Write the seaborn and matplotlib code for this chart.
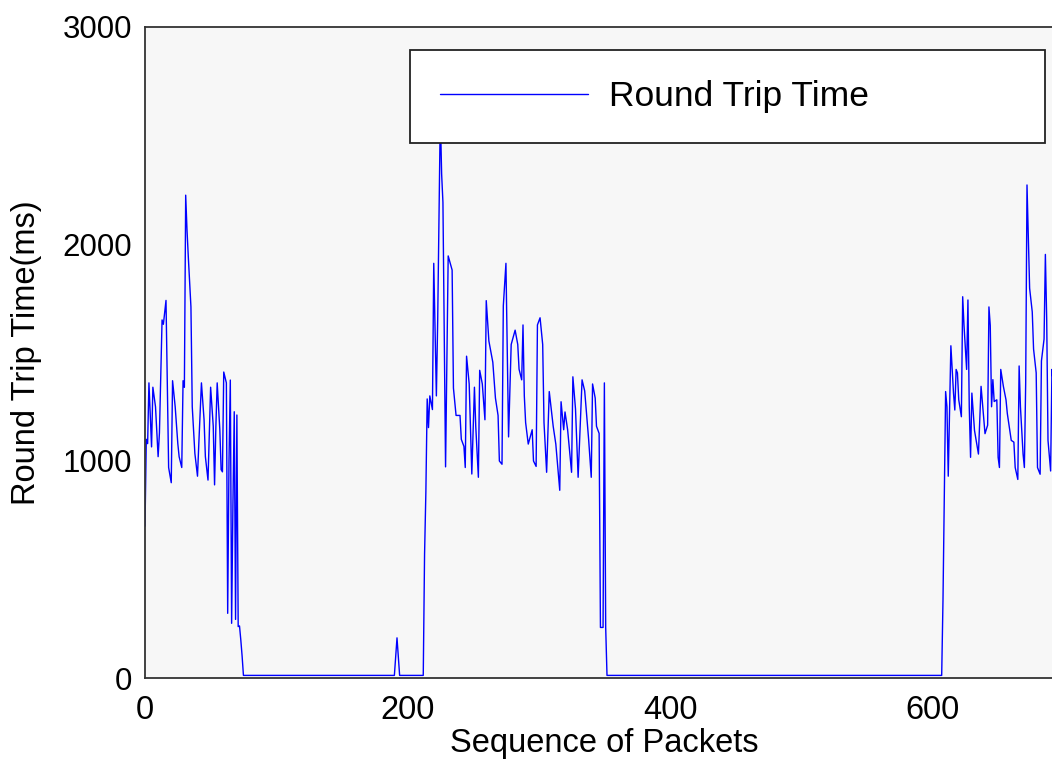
import numpy as np
import pandas as pd
import matplotlib
matplotlib.use("Agg")
import matplotlib.pyplot as plt
from matplotlib import font_manager
import seaborn as sns

# --- RTT samples (packet sequence number, round trip time in ms) ---
burst1_seq = [0, 1, 2, 3, 5, 6, 8, 10, 11, 13, 14, 16, 17, 18, 20, 21, 23, 25, 26,
              28, 29, 30, 31, 32, 33, 35, 36, 38, 40, 41, 43, 45, 46, 48, 50, 52,
              53, 54, 55, 57, 58, 59, 60, 62, 63, 64, 65, 66, 67, 68, 69, 70, 71,
              72, 73, 74, 75]
burst1_rtt = [700, 1100, 1080, 1360, 1065, 1340, 1250, 1020, 1130, 1650, 1630, 1740,
              1370, 970, 900, 1370, 1250, 1080, 1020, 970, 1370, 1340, 2225, 2065,
              1940, 1710, 1250, 1035, 930, 1080, 1360, 1190, 1020, 912, 1340, 1160,
              890, 1160, 1360, 1145, 960, 950, 1410, 1360, 298, 1000, 1373, 252,
              800, 1227, 270, 1212, 237, 240, 175, 100, 12]

idle1_seq = [190, 192, 194, 212]
idle1_rtt = [12, 185, 12, 12]

burst2_seq = [213, 214, 215, 216, 217, 219, 220, 222, 223, 225, 226, 227, 229, 231,
              234, 235, 237, 240, 241, 243, 244, 245, 247, 249, 251, 252, 254, 255,
              257, 259, 260, 262, 265, 267, 269, 270, 272, 273, 275, 277, 279, 282,
              284, 285, 287, 288, 289, 290, 292, 295, 296, 298, 299, 301, 303, 304,
              306, 308, 311, 313, 316, 317, 319, 320, 322, 325, 326, 328, 330, 333,
              335, 338, 340, 341, 343, 344, 346, 347, 349, 350, 351, 352]
burst2_rtt = [570, 858, 1286, 1154, 1300, 1237, 1911, 1300, 1648, 2600, 2323, 2192,
              973, 1945, 1880, 1336, 1210, 1210, 1100, 1067, 970, 1483, 1355, 940,
              1340, 1160, 925, 1418, 1355, 1190, 1739, 1553, 1455, 1290, 1210, 1000,
              985, 1715, 1911, 1111, 1537, 1603, 1537, 1423, 1374, 1627, 1300, 1177,
              1078, 1144, 1000, 975, 1627, 1660, 1537, 1177, 948, 1320, 1160, 1078,
              865, 1273, 1144, 1226, 1144, 948, 1388, 1240, 925, 1374, 1323, 1100,
              925, 1355, 1290, 1160, 1127, 233, 233, 1360, 233, 12]

burst3_seq = [607, 608, 609, 610, 611, 612, 614, 616, 617, 618, 619, 620, 622, 623,
              624, 626, 627, 628, 629, 630, 632, 635, 637, 640, 642, 643, 644, 645,
              646, 647, 649, 650, 651, 652, 654, 656, 657, 660, 662, 663, 665, 666,
              667, 669, 670, 671, 672, 674, 676, 677, 679, 680, 682, 683, 685, 686,
              687, 688, 690, 691, 693]
burst3_rtt = [12, 362, 845, 1320, 1250, 930, 1531, 1313, 1235, 1422, 1406, 1282,
              1204, 1757, 1625, 1422, 1742, 1250, 1017, 1313, 1141, 1032, 1344, 1126,
              1165, 1710, 1625, 1250, 1375, 1274, 1282, 1017, 970, 1422, 1344, 1282,
              1219, 1095, 1087, 970, 915, 1438, 1250, 1032, 970, 1360, 2272, 1796,
              1687, 1516, 1406, 970, 939, 1461, 1562, 1952, 1656, 1095, 954, 1422,
              1300]

x_ticks = [0, 200, 400, 600]
y_ticks = [0, 1000, 2000, 3000]
series_name = "Round Trip Time"

df = pd.DataFrame({
    "seq": burst1_seq + idle1_seq + burst2_seq + burst3_seq,
    "rtt": burst1_rtt + idle1_rtt + burst2_rtt + burst3_rtt,
})

sns.set_style("white")
names = {f.name for f in font_manager.fontManager.ttflist}
narrow = "Liberation Sans Narrow" in names
base_font = "Liberation Sans"
tall_font = "Liberation Sans Narrow" if narrow else "Liberation Sans"
plt.rcParams["font.family"] = [base_font, "DejaVu Sans"]

fig = plt.figure(figsize=(10.52, 7.60), dpi=100)
fig.patch.set_facecolor("white")
# axes extends a little past the right edge of the canvas
ax = fig.add_axes([145 / 1052, 82 / 760, 918.75 / 1052, 651 / 760])
ax.set_facecolor("#f7f7f7")

sns.lineplot(data=df, x="seq", y="rtt", ax=ax, color="#0000ff", linewidth=1.0,
             sort=False, estimator=None, label=series_name)

ax.set_xlim(0, 700)
ax.set_ylim(0, 3000)
ax.set_xticks(x_ticks)
ax.set_yticks(y_ticks)

xs = 27 if narrow else 23.5
ax.set_xticklabels([str(v) for v in x_ticks], fontsize=xs, family=[tall_font, "DejaVu Sans"])
ax.set_yticklabels([str(v) for v in y_ticks], fontsize=22.5, family=[base_font, "DejaVu Sans"])
ax.tick_params(axis="both", direction="in", length=6, width=1.0, color="#222222",
               labelcolor="#000000")
ax.tick_params(axis="x", pad=12)
ax.tick_params(axis="y", pad=9)

ax.set_xlabel("Sequence of Packets", fontsize=(28 if narrow else 23.5),
              family=[tall_font, "DejaVu Sans"], color="#000000", labelpad=2)
ax.set_ylabel("Round Trip Time(ms)", fontsize=(27 if narrow else 23.5),
              family=[tall_font, "DejaVu Sans"], color="#000000", labelpad=15)

for side in ("left", "bottom", "top"):
    ax.spines[side].set_visible(True)
    ax.spines[side].set_color("#333333")
    ax.spines[side].set_linewidth(1.3)
ax.spines["right"].set_visible(False)

lfs = 30 if narrow else 25.5
leg = ax.legend(loc="upper left",
                bbox_to_anchor=(410 / 1052, 1 - 50 / 760, 635 / 1052, 0.0),
                bbox_transform=fig.transFigure, mode="expand", borderaxespad=0,
                fancybox=False, framealpha=1, edgecolor="#222222",
                prop={"family": [tall_font, "DejaVu Sans"], "size": lfs},
                handlelength=148 / (lfs * 100 / 72), handletextpad=0.6,
                borderpad=0.85, labelcolor="#000000")
leg.get_frame().set_linewidth(1.3)
leg.get_frame().set_facecolor("white")
for line in leg.get_lines():
    line.set_linewidth(1.0)

fig.savefig("out.png", dpi=100, facecolor="white")
